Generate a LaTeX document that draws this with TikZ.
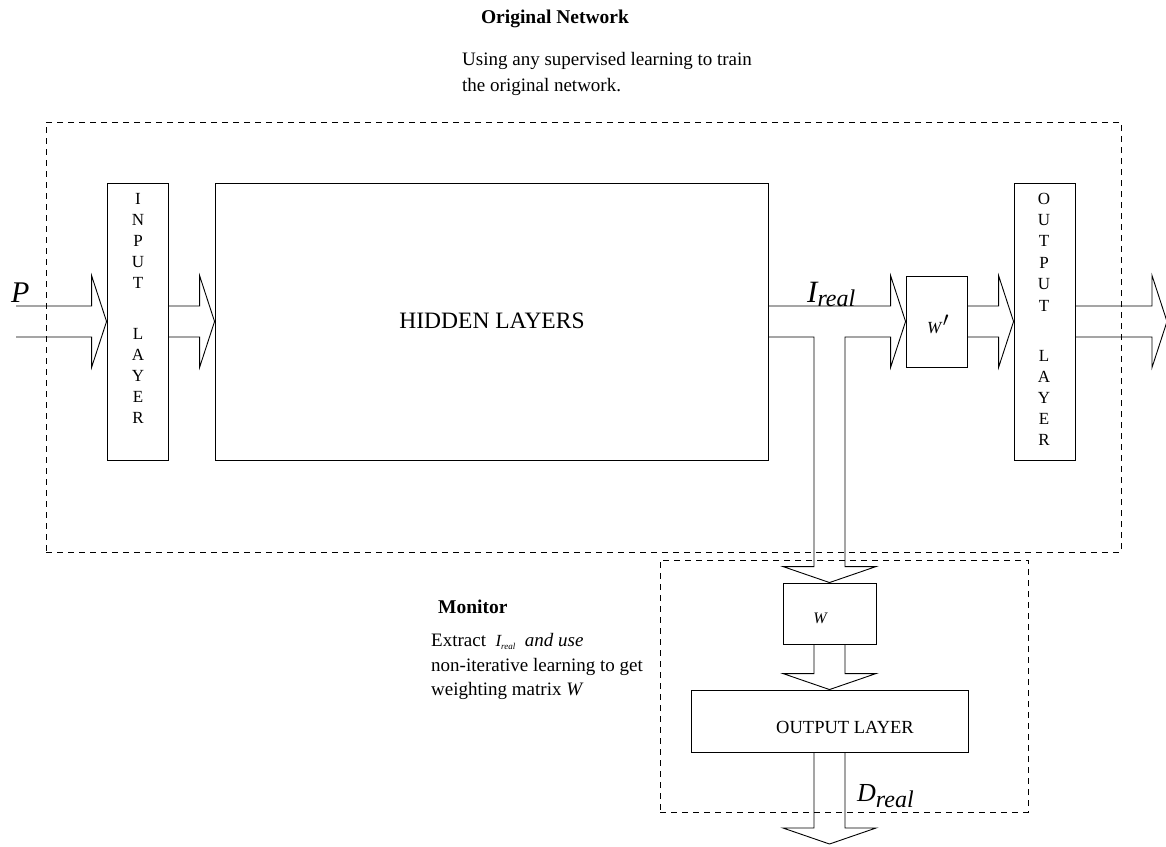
\documentclass[tikz,border=0pt]{standalone}
\usepackage{fontspec}
\setmainfont{Liberation Serif}
\usetikzlibrary{calc}

\tikzset{
  blk/.style={draw, line width=0.9pt, inner sep=0pt},
  dbox/.style={draw, line width=0.9pt, dash pattern=on 6pt off 5pt, inner sep=0pt},
  fat/.style={draw, line width=0.9pt, line join=miter},
  txt/.style={inner sep=0pt, font=\fontsize{19}{26}\selectfont},
  vlet/.style={inner sep=0pt, anchor=base, font=\fontsize{17}{17}\selectfont},
}

% horizontal block arrow: open tail at #1, tip at #2
\newcommand\hfat[2]{%
  \draw[fat] let \p1=(#1), \p2=(#2) in
    (\x1,\y2+15.5pt) -- (\x2-15pt,\y2+15.5pt) -- (\x2-15pt,\y2+46pt) -- (\x2,\y2)
    -- (\x2-15pt,\y2-46pt) -- (\x2-15pt,\y2-15.5pt) -- (\x1,\y2-15.5pt);}
% vertical block arrow pointing down: open tail at #1, tip at #2
\newcommand\vfat[2]{%
  \draw[fat] let \p1=(#1), \p2=(#2) in
    (\x2-15.5pt,\y1) -- (\x2-15.5pt,\y2+16pt) -- (\x2-46.5pt,\y2+16pt) -- (\x2,\y2)
    -- (\x2+46.5pt,\y2+16pt) -- (\x2+15.5pt,\y2+16pt) -- (\x2+15.5pt,\y1);}

\begin{document}
\begin{tikzpicture}[x=1pt, y=-1pt]
\useasboundingbox (0,0) rectangle (1166,846);

% frames
\node[dbox, minimum width=1075pt, minimum height=430pt] (orig) at (583.5,337) {};
\node[dbox, minimum width=368pt, minimum height=252pt] (mon) at (844,686) {};

% original network blocks
\node[blk, minimum width=61pt, minimum height=277pt] (inl) at (137.5,321.5) {};
\node[blk, minimum width=553pt, minimum height=277pt] (hid) at (491.5,321.5) {};
\node[blk, minimum width=61pt, minimum height=91pt] (wp) at (936.5,321.5) {};
\node[blk, minimum width=61pt, minimum height=277pt] (outl) at (1044.5,321.5) {};

% monitor blocks
\node[blk, minimum width=93pt, minimum height=61pt] (wm) at (829.5,613.5) {};
\node[blk, minimum width=277pt, minimum height=62pt] (ol2) at (829.5,721) {};

% free arrow ends
\coordinate (pin) at (16,321.5);
\coordinate (pout) at (1167,321.5);
\coordinate (dout) at (829.5,844);

% block arrows
\hfat{pin}{inl.west}
\hfat{inl.east}{hid.west}
\hfat{wp.east}{outl.west}
\hfat{outl.east}{pout}
\vfat{wm.south}{ol2.north}
\vfat{ol2.south}{dout}

% hidden layers -> w' with branch down to W
\draw[fat] let \p1=(hid.east), \p2=(wp.west), \p3=(wm.north) in
  (\x1,\y1+15.5pt) -- (\x2-15pt,\y1+15.5pt) -- (\x2-15pt,\y1+46pt) -- (\x2,\y1)
  -- (\x2-15pt,\y1-46pt) -- (\x2-15pt,\y1-15.5pt) -- (\x3+15.5pt,\y1-15.5pt)
  -- (\x3+15.5pt,\y3+16pt) -- (\x3+46.5pt,\y3+16pt) -- (\x3,\y3)
  -- (\x3-46.5pt,\y3+16pt) -- (\x3-15.5pt,\y3+16pt) -- (\x3-15.5pt,\y1-15.5pt)
  -- (\x1,\y1-15.5pt);

% vertical captions
\foreach \c [count=\i] in {I,N,P,U,T}
  \node[vlet] (in\i) at (138,204+21*\i-21) {\c};
\foreach \c [count=\i] in {L,A,Y,E,R}
  \node[vlet] (inb\i) at (138,339+21*\i-21) {\c};
\foreach \c [count=\i] in {O,U,T,P,U,T}
  \node[vlet] (out\i) at (1044,204+21.4*\i-21.4) {\c};
\foreach \c [count=\i] in {L,A,Y,E,R}
  \node[vlet] (outb\i) at (1044,361+21*\i-21) {\c};

% block texts
\node[inner sep=0pt, font=\fontsize{23.5}{23.5}\selectfont] (hidt) at (492,320.5) {HIDDEN LAYERS};
\node[inner sep=0pt, font=\fontsize{18.5}{18.5}\selectfont] (ol2t) at (845,727.5) {OUTPUT LAYER};
\node[inner sep=0pt, anchor=base, font=\itshape\fontsize{16}{16}\selectfont] (wmt) at (820,623) {W};
\node[inner sep=0pt, anchor=base west] (wpt) at (927,333)
  {\fontsize{17}{17}\selectfont\itshape W\hspace{1.5pt}\raisebox{7pt}{\fontsize{20}{20}\selectfont$\prime$}};

% signal labels
\node[inner sep=0pt, anchor=base west, font=\itshape\fontsize{30}{30}\selectfont] (plbl) at (11,302) {P};
\node[inner sep=0pt, anchor=base west] (ilbl) at (807,302)
  {\itshape\fontsize{31}{31}\selectfont I\raisebox{-4pt}{\fontsize{24}{24}\selectfont real}};
\node[inner sep=0pt, anchor=base west] (dlbl) at (857,801)
  {\itshape\fontsize{26}{26}\selectfont D\raisebox{-6pt}{\fontsize{24}{24}\selectfont real}};

% annotations
\node[inner sep=0pt, anchor=base, font=\bfseries\fontsize{19.5}{19.5}\selectfont] (ttl) at (555,23) {Original Network};
\node[txt, anchor=base west] (d1) at (462,65) {Using any supervised learning to train};
\node[txt, anchor=base west] (d2) at (462,91) {the original network.};
\node[inner sep=0pt, anchor=base west, font=\bfseries\fontsize{19.5}{19.5}\selectfont] (mtt) at (438,613) {Monitor};
\node[txt, anchor=base west] (m1) at (431,646)
  {Extract\ \ {\itshape\fontsize{17}{17}\selectfont I\raisebox{-3pt}{\fontsize{9}{9}\selectfont real}}\ \ \textit{and use}};
\node[txt, anchor=base west] (m2) at (431,671) {non-iterative learning to get};
\node[txt, anchor=base west] (m3) at (431,695) {weighting matrix \textit{W}};
\end{tikzpicture}
\end{document}
